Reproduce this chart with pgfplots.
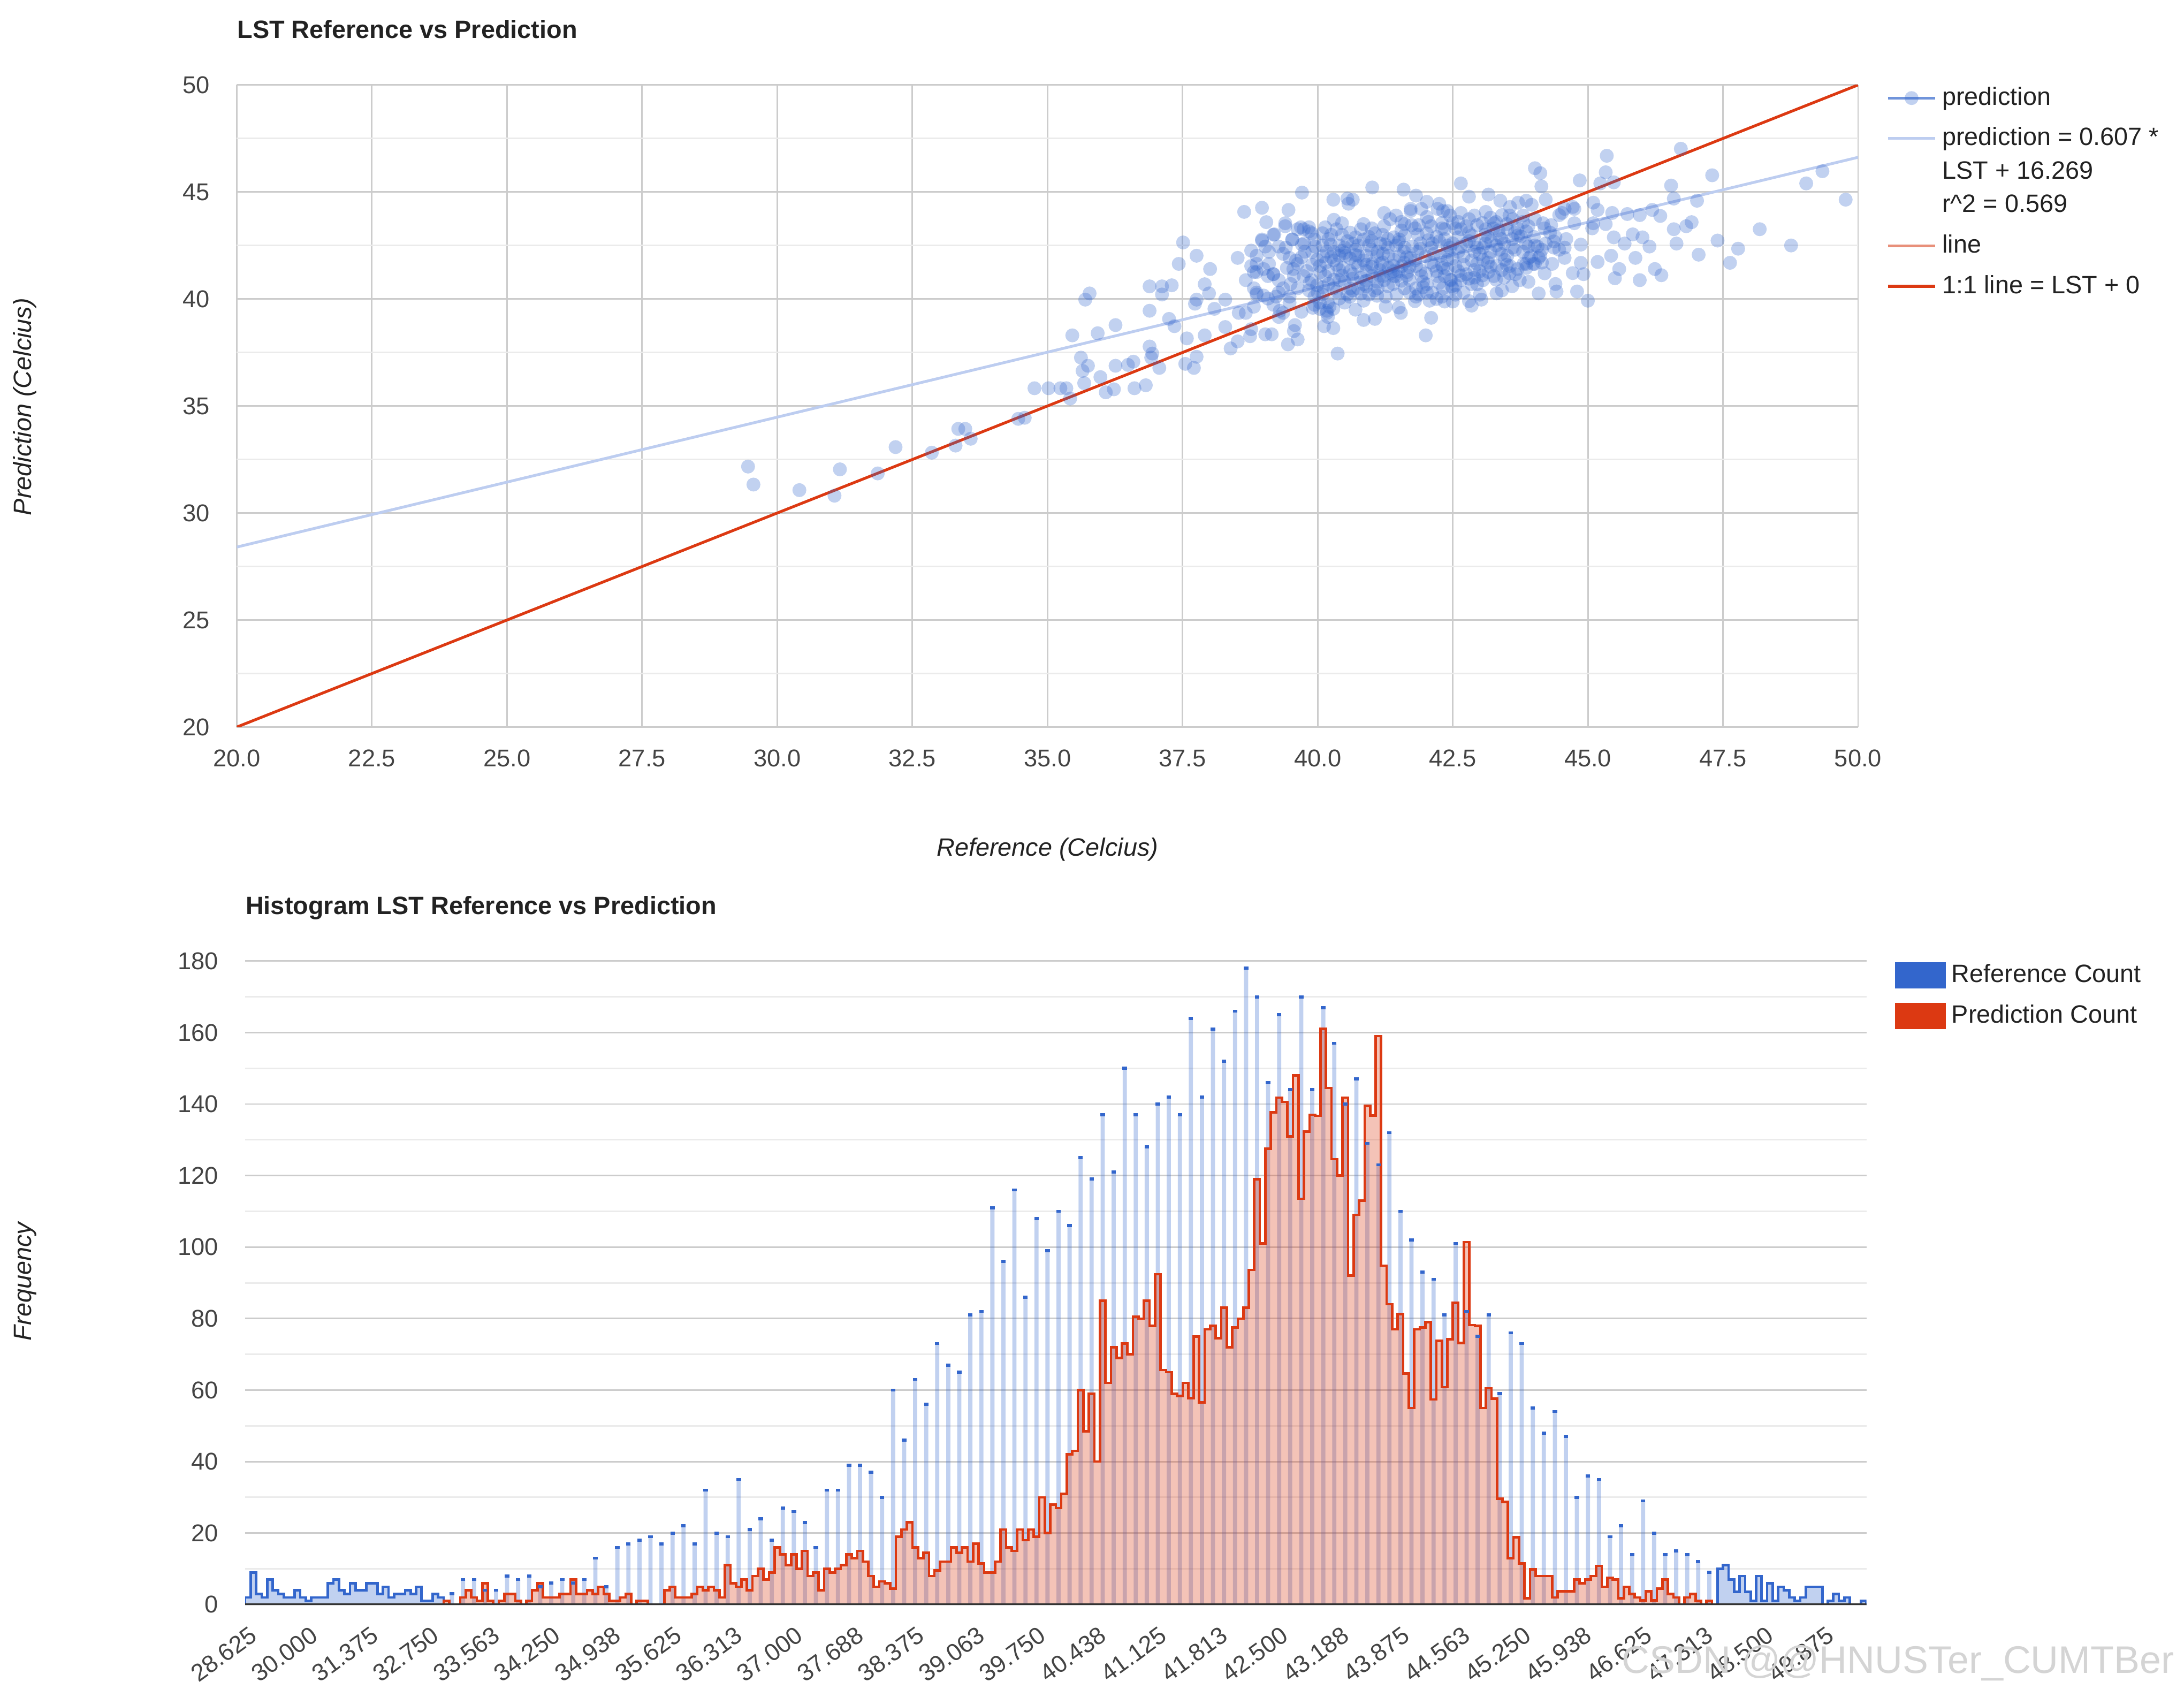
\documentclass[border=0pt]{standalone}
\usepackage{fontspec}
\setmainfont{Liberation Sans}
\usepackage{pgfplots}
\pgfplotsset{compat=1.18}
\usepackage{pgfplotstable}
\definecolor{cblue}{HTML}{3366CC}
\definecolor{cred}{HTML}{DC3912}
\definecolor{gmaj}{HTML}{CCCCCC}
\definecolor{gmin}{HTML}{EBEBEB}
\definecolor{tickc}{HTML}{444444}
\definecolor{ttl}{HTML}{222222}
\definecolor{lred}{HTML}{E8907A}
\definecolor{lblue}{HTML}{BDCDF0}
\definecolor{wm}{HTML}{D4D4D4}
\definecolor{base}{HTML}{333333}

\pgfplotstableread{
x y
29.46 32.17
29.56 31.33
30.41 31.07
31.06 30.81
31.16 32.04
31.86 31.85
32.19 33.08
32.86 32.82
33.30 33.15
33.35 33.93
33.48 33.93
33.58 33.47
34.46 34.40
34.58 34.45
34.76 35.83
35.02 35.83
35.24 35.83
35.35 35.83
35.42 35.35
35.68 36.07
35.62 37.26
35.75 36.88
35.65 36.64
35.98 36.35
36.08 35.64
36.23 35.78
36.26 36.88
36.49 36.92
36.59 37.07
36.61 35.83
36.82 35.97
36.89 37.78
36.94 37.45
36.92 37.26
37.07 36.78
37.55 36.97
37.71 36.78
37.76 37.30
37.58 38.16
37.91 38.30
38.29 38.69
38.39 37.69
38.52 38.02
38.75 38.26
38.77 38.59
39.03 38.35
39.15 38.35
39.45 37.88
39.56 38.50
39.63 38.11
39.58 38.78
40.37 37.45
40.12 38.73
40.29 38.64
40.17 39.35
40.22 39.64
40.04 39.83
39.91 39.59
40.85 39.02
41.06 39.07
41.26 39.64
41.54 39.35
42.10 39.12
42.00 38.30
35.70 39.97
35.78 40.26
35.46 38.30
35.93 38.40
36.26 38.78
36.89 40.59
37.12 40.59
37.30 40.64
37.12 40.21
36.89 39.45
37.25 39.07
37.35 38.73
37.43 41.64
37.51 42.64
37.76 42.02
38.01 41.40
37.91 40.69
37.99 40.26
37.73 39.78
37.76 39.97
38.09 39.54
38.29 39.97
38.52 41.92
38.64 44.07
38.97 44.26
39.05 43.59
39.46 44.16
38.77 42.26
38.97 42.73
39.20 43.02
38.67 40.88
38.82 41.26
38.87 41.64
38.54 39.35
38.67 39.35
38.82 39.64
38.87 40.21
39.08 41.07
39.18 41.16
39.40 43.54
39.71 44.97
39.53 42.78
39.69 43.35
39.84 43.35
39.89 43.07
40.14 43.35
40.29 44.64
40.55 44.69
40.65 44.64
40.57 44.45
40.45 43.54
41.01 45.21
41.23 44.02
41.34 43.73
41.59 45.11
41.82 44.83
42.02 44.54
42.25 44.45
41.72 44.21
41.61 43.50
42.32 44.11
39.28 42.45
39.41 42.40
39.36 42.11
39.48 41.92
39.71 42.54
39.76 42.21
39.63 41.64
39.43 41.45
39.56 41.07
39.74 41.07
39.89 40.88
39.99 40.64
40.14 41.07
40.04 41.54
39.99 41.83
40.17 42.21
40.24 42.54
40.45 43.00
40.50 42.40
40.65 42.59
40.80 43.26
40.85 42.78
40.90 42.02
41.01 41.64
40.75 41.54
40.65 41.16
40.52 42.02
40.47 41.45
40.40 40.88
40.29 40.50
40.75 40.50
40.95 40.21
41.11 40.50
41.23 40.88
41.31 41.45
41.41 41.83
41.21 42.11
41.16 42.59
41.06 43.07
41.23 43.40
41.51 42.78
41.61 42.40
41.72 41.92
41.82 41.54
41.92 41.07
42.02 40.69
42.12 40.30
41.82 40.50
41.61 40.50
41.46 40.21
41.82 40.11
42.02 40.30
42.22 41.07
42.32 41.45
42.27 42.02
42.12 42.59
42.02 43.07
41.87 43.45
42.02 43.83
42.22 44.21
41.92 44.21
41.72 44.11
41.74 43.45
41.61 42.97
41.41 42.88
41.46 41.07
41.66 41.26
42.30 40.11
42.32 40.50
42.07 39.92
41.87 40.21
41.01 41.07
40.85 40.69
41.16 41.64
40.70 42.88
40.35 43.26
40.09 43.07
39.94 42.78
39.84 43.16
39.74 43.26
39.63 43.26
39.53 42.78
39.18 43.00
39.03 42.45
38.97 42.78
38.87 42.02
38.77 41.54
38.87 41.26
39.10 41.64
39.18 41.16
39.28 40.88
39.36 40.50
39.28 40.30
39.48 40.11
39.63 40.50
39.84 40.40
39.94 40.11
40.09 40.21
40.19 39.83
40.17 39.45
40.19 39.16
40.29 39.54
40.04 39.54
39.94 39.73
40.40 40.02
40.55 40.21
40.65 40.40
39.30 39.45
39.36 39.35
39.28 39.16
39.18 39.73
39.08 40.02
39.23 40.11
39.48 39.83
39.00 40.16
38.87 40.30
38.82 40.50
40.09 42.50
40.40 42.02
40.75 42.02
40.95 42.50
41.11 42.21
41.31 42.02
41.51 42.02
41.56 41.54
41.41 41.07
41.21 41.07
41.26 40.11
40.85 39.92
40.50 39.83
42.40 44.11
42.50 43.54
42.65 43.26
42.80 43.73
42.95 43.45
43.11 43.26
43.26 43.54
43.41 43.92
43.56 44.30
43.71 44.50
43.86 44.59
43.96 44.40
44.02 43.73
44.17 43.54
44.32 43.45
44.47 43.92
44.57 44.21
44.72 44.30
43.61 43.73
43.51 43.26
43.36 42.97
43.21 42.69
43.06 42.40
42.90 42.21
42.75 42.59
42.60 42.88
42.45 42.40
42.40 41.83
42.55 41.54
42.75 41.16
42.95 41.64
43.06 41.83
43.16 41.26
43.31 41.54
43.46 41.83
43.61 42.40
43.71 42.97
43.86 43.16
44.02 42.50
44.22 42.59
44.37 42.69
44.47 42.30
44.12 42.02
43.91 41.92
43.81 41.64
43.86 41.45
44.02 41.64
43.66 41.16
43.41 41.35
43.26 41.07
43.06 40.88
42.85 40.69
42.65 40.88
42.50 40.50
42.47 40.88
42.95 40.69
43.16 41.92
43.51 42.02
43.36 42.30
42.85 42.97
42.65 44.02
42.35 43.26
42.35 41.07
42.65 45.40
42.80 44.78
43.16 44.88
43.11 44.07
43.38 44.59
44.02 46.11
44.12 45.88
44.14 45.26
44.22 44.64
44.85 45.54
45.23 45.40
45.33 45.92
45.35 46.69
45.48 45.45
45.10 44.50
45.18 44.16
46.72 47.02
46.54 45.30
46.59 44.69
47.02 44.59
47.30 45.78
49.04 45.40
49.34 45.97
49.77 44.64
45.45 44.02
45.73 43.97
45.96 43.92
46.19 44.16
46.34 43.88
46.59 43.26
46.82 43.40
46.92 43.59
48.18 43.26
47.40 42.73
47.78 42.35
47.63 41.69
48.76 42.50
47.05 42.07
46.64 42.59
46.14 42.45
46.01 42.88
45.88 41.92
46.24 41.40
46.36 41.11
45.96 40.88
45.50 40.97
45.58 41.40
45.18 41.73
45.43 42.02
45.48 42.88
45.68 42.59
45.83 43.02
45.00 39.92
44.80 40.35
44.42 40.35
44.09 40.26
44.92 41.16
44.87 41.69
44.87 42.54
44.72 41.21
44.57 41.92
44.75 43.54
44.75 44.21
44.52 44.02
45.10 43.54
45.08 43.30
45.33 43.50
44.34 41.64
44.37 42.40
44.57 42.40
44.07 42.45
44.09 41.92
43.86 41.64
43.99 41.64
43.74 40.88
43.56 41.54
43.76 42.92
43.31 40.26
43.41 40.40
43.03 39.97
42.85 39.69
42.50 39.88
42.48 40.59
42.35 39.88
40.30 41.80
40.60 41.90
40.90 41.30
41.20 41.70
41.50 41.30
41.80 41.80
42.10 41.70
42.40 42.20
42.70 42.00
43.00 42.10
43.30 42.50
42.20 42.90
41.90 42.60
41.60 42.20
41.30 42.40
41.00 42.30
40.70 42.30
40.40 42.50
40.20 41.30
40.50 40.80
40.80 41.00
41.10 40.80
41.40 40.70
41.70 40.90
42.00 41.20
42.30 41.60
42.60 41.30
42.90 41.00
43.20 41.50
43.50 41.60
43.80 42.20
43.10 43.00
42.80 42.70
42.50 42.60
42.30 43.30
42.60 43.60
42.90 43.90
43.20 43.80
43.50 43.50
43.80 43.90
44.30 43.10
44.60 42.80
44.20 41.20
43.90 40.80
43.60 40.60
42.70 40.30
42.20 40.00
41.50 39.60
40.70 39.50
39.70 39.40
40.00 40.30
40.30 40.90
39.80 41.30
39.60 41.80
39.90 42.20
40.20 42.80
39.40 43.40
39.10 42.20
39.00 41.40
39.50 40.70
40.60 40.10
41.70 40.30
42.80 39.90
43.00 40.20
44.40 40.70
40.10 42.00
40.35 41.60
40.60 41.30
40.85 41.80
41.10 42.00
41.35 41.20
41.60 41.70
41.85 42.20
42.10 42.40
42.35 42.80
42.60 42.20
42.85 41.80
43.10 42.60
43.35 43.20
43.60 42.80
43.85 42.60
42.20 41.30
41.95 40.80
41.70 41.50
41.45 42.50
41.20 43.00
40.95 42.90
40.70 41.70
40.45 41.10
40.20 40.70
40.55 42.70
41.05 40.40
41.30 40.60
42.45 40.90
42.70 41.60
42.95 42.40
43.20 42.20
43.45 42.60
43.70 43.30
43.25 43.30
42.75 43.40
42.45 43.90
42.10 43.40
41.85 43.00
41.55 43.20
41.30 42.80
43.00 41.30
43.30 40.90
43.55 41.20
42.55 40.20
41.80 39.90
40.90 40.60
40.60 40.50
44.00 42.90
44.20 43.30
43.95 42.00
44.15 41.70
39.90 41.60
39.75 42.60
40.30 43.70
40.85 43.50
41.45 43.90
42.50 41.90
42.00 42.00
41.00 41.50
40.05 41.25
40.25 41.95
40.45 42.25
40.70 42.05
40.90 41.60
41.15 41.35
41.40 41.55
41.65 41.95
41.90 42.35
42.15 42.10
42.40 42.50
42.65 42.45
42.90 42.65
43.15 42.90
43.40 42.80
43.65 43.10
43.90 43.40
42.25 42.70
42.05 42.75
41.75 42.45
41.50 42.65
41.25 42.55
41.00 42.70
40.75 42.50
40.50 42.15
40.30 42.20
40.15 41.70
40.40 41.35
40.65 40.95
40.90 40.85
41.15 41.10
41.40 41.30
41.65 41.10
41.90 41.35
42.15 41.55
42.40 41.40
42.65 41.10
42.90 41.35
43.15 41.70
43.40 42.10
43.65 42.30
43.90 42.45
44.15 42.30
44.40 42.90
43.80 43.60
43.55 43.90
43.30 43.60
43.05 43.55
42.80 43.10
42.55 43.30
42.30 43.55
42.05 43.60
41.80 43.30
41.55 43.60
41.00 43.30
40.60 43.10
40.25 43.00
39.95 42.45
39.70 41.95
39.55 41.40
39.85 40.75
40.10 40.55
40.35 40.35
40.80 40.25
41.10 40.15
41.55 40.85
41.95 40.55
42.25 40.75
42.55 40.65
42.80 40.95
43.05 41.10
43.45 41.00
43.70 41.40
}\scatterdata

\pgfplotstableread{
c v
37 3
39 7
41 7
43 4
45 4
47 8
49 7
51 8
53 5
55 6
57 7
59 6
61 7
63 13
65 5
67 16
69 17
71 18
73 19
75 17
77 20
79 22
81 17
83 32
85 20
87 19
89 35
91 21
93 24
95 18
97 27
99 26
101 23
103 16
105 32
107 32
109 39
111 39
113 37
115 30
117 60
119 46
121 63
123 56
125 73
127 67
129 65
131 81
133 82
135 111
137 96
139 116
141 86
143 108
145 99
147 110
149 106
151 125
153 119
155 137
157 121
159 150
161 137
163 128
165 140
167 142
169 137
171 164
173 142
175 161
177 152
179 166
181 178
183 170
185 146
187 165
189 144
191 170
193 144
195 167
197 157
199 140
201 147
203 129
205 123
207 132
209 110
211 102
213 93
215 91
217 81
219 101
221 82
223 75
225 81
227 59
229 76
231 73
233 55
235 48
237 54
239 47
241 30
243 36
245 35
247 19
249 22
251 14
253 29
255 20
257 14
259 15
261 14
263 12
265 9
}\bspikes

\pgfplotstableread{
c v
0 2
1 9
2 3
3 2
4 7
5 4
6 3
7 2
8 2
9 4
10 2
11 1
12 2
13 2
14 2
15 6
16 7
17 4
18 3
19 6
20 4
21 4
22 6
23 6
24 3
25 5
26 2
27 3
28 3
29 4
30 3
31 5
32 1
33 1
34 3
35 2
36 2
}\blueleft

\pgfplotstableread{
c v
267 10
268 11
269 7
270 3.6
271 8
272 3.6
273 1
274 8
275 1
276 6
277 1
278 5
279 4
280 2
281 1
282 2
283 5
284 5
285 5
286 5
}\bluerightA

\pgfplotstableread{
c v
287 1
288 3
289 1
290 2
291 2
}\bluerightB

\pgfplotstableread{
c v
293 1
294 1
}\bluerightC

\pgfplotstableread{
c v
36 1
37 1
}\redA

\pgfplotstableread{
c v
39 2
40 4
41 2
42 1
43 6
44 1
45 1
}\redB

\pgfplotstableread{
c v
46 1
47 3
48 3
49 1
50 1
}\redC

\pgfplotstableread{
c v
51 1
52 4
53 6
54 2
55 2
56 2
57 3
58 3
59 7
60 3
61 3
62 4
63 3
64 5
65 3
66 1
67 1
68 2
69 3
70 3
}\redD

\pgfplotstableread{
c v
71 1
72 1
73 1
}\redE

\pgfplotstableread{
c v
76 4
77 5
78 2
79 2
80 2
81 3
82 5
83 4
84 5
85 4
86 2
87 11
88 6
89 5
90 7
91 4
92 8
93 10
94 7
95 9
96 16
97 14
98 11
99 14
100 10
101 15
102 8
103 9
104 4
105 10
106 9
107 10
108 11
109 14
110 13
111 15
112 12
113 8
114 5
115 6.5
116 6
117 4.5
118 19
119 21
120 23
121 16
122 13
123 14.5
124 8
125 9.5
126 12
127 12
128 16
129 14.5
130 16
131 12
132 17
133 11.5
134 9
135 9
136 12
137 21
138 16
139 15
140 21
141 18
142 21
143 19
144 30
145 20
146 28
147 27
148 31
149 42
150 43
151 60
152 48.5
153 59
154 40
155 85
156 62
157 72
158 69
159 73
160 70
161 80.5
162 80
163 85
164 78
165 92.4
166 65.6
167 65
168 59
169 58.4
170 62
171 57.8
172 75
173 56.6
174 77
175 78
176 74.5
177 83
178 72
179 77.5
180 80
181 83
182 93.6
183 119
184 101
185 127.5
186 137.7
187 141.8
188 140.6
189 131
190 148
191 113.5
192 132.3
193 137
194 136.7
195 161
196 144.5
197 124.6
198 120
199 141.8
200 92
201 109
202 113
203 139.5
204 136.8
205 159
206 94.8
207 84
208 77
209 81.3
210 64.6
211 55
212 77
213 77.5
214 79
215 57.4
216 73.8
217 60.8
218 74.2
219 84.4
220 73.2
221 101.4
222 78.2
223 78
224 55
225 60.5
226 57.6
227 29.6
228 28.7
229 13
230 18.8
231 11.5
232 1.8
233 9.8
234 8
235 8
236 8
237 2
238 3.7
239 3.7
240 3.7
241 7
242 6
243 7
244 8
245 10.8
246 5
247 7.5
248 7
249 1.8
250 5
251 3
252 2
253 1.2
254 3.7
255 1.2
256 4.5
257 7
258 3
259 2
260 2
}\redF

\pgfplotstableread{
c v
261 2
262 3
263 1
264 1
}\redG

\pgfplotstableread{
c v
265 1
266 1
}\redH

\pgfplotsset{
  gstyle/.style={
    scale only axis,
    axis line style={draw=none},
    tick style={draw=none},
    major tick length=0pt, minor tick length=0pt,
    major grid style={gmaj, line width=0.55pt},
    minor grid style={gmin, line width=0.55pt},
    ticklabel style={font=\fontsize{8.7}{10}\selectfont, text=tickc},
    /pgf/number format/assume math mode=true,
    legend cell align=left,
  },
  bluestep/.style={const plot mark left, draw=cblue, line width=0.9pt, fill=cblue, fill opacity=0.3, forget plot},
  redstep/.style={const plot mark left, draw=cred, line width=0.9pt, fill=cred, fill opacity=0.3, forget plot},
}

\begin{document}
\begin{tikzpicture}
\useasboundingbox (0pt,0pt) rectangle (784pt,-609pt);

% ---------- scatter ----------
\begin{axis}[gstyle,
  at={(85pt,-30.5pt)}, anchor=north west,
  width=582pt, height=230.5pt,
  xmin=20, xmax=50, ymin=20, ymax=50,
  xtick={20,22.5,25,27.5,30,32.5,35,37.5,40,42.5,45,47.5,50},
  ytick={20,25,30,35,40,45,50},
  minor ytick={22.5,27.5,32.5,37.5,42.5,47.5},
  xmajorgrids, ymajorgrids, yminorgrids,
  xticklabel style={anchor=north, inner sep=0pt, yshift=-8pt, /pgf/number format/fixed, /pgf/number format/fixed zerofill, /pgf/number format/precision=1},
  yticklabel style={anchor=east, inner sep=0pt, xshift=-9.5pt},
  legend style={at={(rel axis cs:1,1)}, anchor=north west, xshift=10pt, yshift=1.5pt,
    draw=none, fill=none, inner sep=0pt,
    font=\fontsize{9}{12}\selectfont, text=ttl,
    cells={align=left}, row sep=2.5pt,
    /tikz/every even column/.append style={column sep=3pt}},
]
\addplot[lblue, line width=1pt, forget plot] coordinates {(20,28.409) (50,46.619)};
\addplot[only marks, mark=*, mark size=2.5pt, mark options={draw=cblue, draw opacity=0, fill=cblue, fill opacity=0.3}, forget plot] table[x=x, y=y] {\scatterdata};
\addplot[cred, line width=1pt, forget plot] coordinates {(20,20) (50,50)};
\addlegendimage{legend image code/.code={\draw[cblue, draw opacity=0.7, line width=1pt] (0pt,0pt) -- (17pt,0pt); \path[draw=none, fill=cblue, fill opacity=0.3] (8.5pt,0pt) circle (2.5pt);}}
\addlegendentry{prediction}
\addlegendimage{legend image code/.code={\path[draw=none] (0pt,-12pt) -- (17pt,-12pt); \draw[lblue, line width=1pt] (0pt,12pt) -- (17pt,12pt);}}
\addlegendentry{prediction = 0.607 *\\LST + 16.269\\r\textasciicircum 2 = 0.569}
\addlegendimage{legend image code/.code={\draw[lred, line width=1pt] (0pt,0pt) -- (17pt,0pt);}}
\addlegendentry{line}
\addlegendimage{legend image code/.code={\draw[cred, line width=1pt] (0pt,0pt) -- (17pt,0pt);}}
\addlegendentry{1:1 line = LST + 0}
\end{axis}

% ---------- histogram ----------
\begin{axis}[gstyle,
  at={(88pt,-345pt)}, anchor=north west,
  width=582pt, height=231pt,
  xmin=-0.5, xmax=293.5, ymin=0, ymax=180,
  xtick={0,11,...,286},
  xticklabels={28.625,30.000,31.375,32.750,33.563,34.250,34.938,35.625,36.313,37.000,37.688,38.375,39.063,39.750,40.438,41.125,41.813,42.500,43.188,43.875,44.563,45.250,45.938,46.625,47.313,48.500,49.875},
  ytick={0,20,...,180},
  minor ytick={10,30,...,170},
  ymajorgrids, yminorgrids,
  xticklabel style={rotate=36, anchor=north east, inner sep=0pt, xshift=-4pt, yshift=-6pt},
  yticklabel style={anchor=east, inner sep=0pt, xshift=-9.5pt},
  legend style={at={(rel axis cs:1,1)}, anchor=north west, xshift=10pt, yshift=1pt,
    draw=none, fill=none, inner sep=0pt,
    font=\fontsize{9}{12}\selectfont, text=ttl, row sep=2.5pt,
    /tikz/every even column/.append style={column sep=3.5pt}},
]
\addplot[ybar, bar width=1.5pt, bar shift=0pt, draw=none, fill=cblue, fill opacity=0.3, forget plot] table[x=c, y=v] {\bspikes};
\addplot[only marks, mark=-, mark size=0.8pt, mark options={cblue, line width=1.1pt}, forget plot] table[x=c, y=v] {\bspikes};
\addplot[bluestep] table[x expr=\thisrow{c}-0.5, y=v] {\blueleft} \closedcycle;
\addplot[bluestep] table[x expr=\thisrow{c}-0.5, y=v] {\bluerightA} \closedcycle;
\addplot[bluestep] table[x expr=\thisrow{c}-0.5, y=v] {\bluerightB} \closedcycle;
\addplot[bluestep] table[x expr=\thisrow{c}-0.5, y=v] {\bluerightC} \closedcycle;
\addplot[redstep] table[x expr=\thisrow{c}-0.5, y=v] {\redA} \closedcycle;
\addplot[redstep] table[x expr=\thisrow{c}-0.5, y=v] {\redB} \closedcycle;
\addplot[redstep] table[x expr=\thisrow{c}-0.5, y=v] {\redC} \closedcycle;
\addplot[redstep] table[x expr=\thisrow{c}-0.5, y=v] {\redD} \closedcycle;
\addplot[redstep] table[x expr=\thisrow{c}-0.5, y=v] {\redE} \closedcycle;
\addplot[redstep] table[x expr=\thisrow{c}-0.5, y=v] {\redF} \closedcycle;
\addplot[redstep] table[x expr=\thisrow{c}-0.5, y=v] {\redG} \closedcycle;
\addplot[redstep] table[x expr=\thisrow{c}-0.5, y=v] {\redH} \closedcycle;
\draw[base, line width=0.9pt] (axis cs:-0.5,0) -- (axis cs:293.5,0);
\addlegendimage{legend image code/.code={\fill[cblue] (0pt,-4.5pt) rectangle (18pt,4.5pt);}}
\addlegendentry{Reference Count}
\addlegendimage{legend image code/.code={\fill[cred] (0pt,-4.5pt) rectangle (18pt,4.5pt);}}
\addlegendentry{Prediction Count}
\end{axis}

% ---------- titles and axis titles ----------
\node[anchor=west, inner sep=0pt, text=ttl, font=\fontsize{9}{11}\selectfont\bfseries] at (85pt,-10.5pt) {LST Reference vs Prediction};
\node[anchor=west, inner sep=0pt, text=ttl, font=\fontsize{9}{11}\selectfont\bfseries] at (88pt,-326pt) {Histogram LST Reference vs Prediction};
\node[rotate=90, inner sep=0pt, text=ttl, font=\fontsize{9}{11}\selectfont\itshape] at (9pt,-146pt) {Prediction (Celcius)};
\node[rotate=90, inner sep=0pt, text=ttl, font=\fontsize{9}{11}\selectfont\itshape] at (9pt,-460pt) {Frequency};
\node[inner sep=0pt, text=ttl, font=\fontsize{9}{11}\selectfont\itshape] at (376pt,-305pt) {Reference (Celcius)};
\node[anchor=west, inner sep=0pt, text=wm, font=\fontsize{13.8}{15}\selectfont] at (582pt,-597pt) {CSDN @@HNUSTer\_CUMTBer};
\end{tikzpicture}
\end{document}
